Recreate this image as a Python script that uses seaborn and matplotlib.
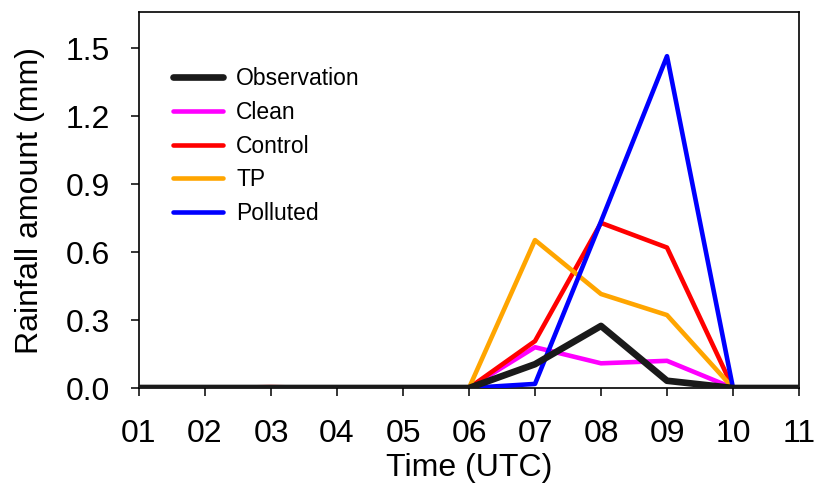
import matplotlib
matplotlib.use("Agg")
import matplotlib.pyplot as plt
import seaborn as sns
import pandas as pd

hours = [1, 2, 3, 4, 5, 6, 7, 8, 9, 10, 11]
tick_labels = ["01", "02", "03", "04", "05", "06", "07", "08", "09", "10", "11"]

observation = [0, 0, 0, 0, 0, 0, 0.105, 0.274, 0.032, 0.0, 0.0]
clean = [0, 0, 0, 0, 0, 0, 0.180, 0.109, 0.120, 0.0, 0.0]
control = [0, 0, 0.004, 0, 0, 0, 0.207, 0.729, 0.620, 0.0, 0.0]
tp = [0, 0, 0, 0, 0, 0, 0.653, 0.415, 0.322, 0.0, 0.0]
polluted = [0, 0, 0, 0, 0, 0, 0.018, 0.735, 1.465, 0.0, 0.0]

series_names = ["Observation", "Clean", "Control", "TP", "Polluted"]
series_values = [observation, clean, control, tp, polluted]
colors = ["#1a1a1a", "#ff00ff", "#ff0000", "#ffa500", "#0000ff"]
widths = [4.8, 3.3, 3.3, 3.3, 3.3]
zorders = [10, 3, 4, 5, 6]

sns.set_style("ticks")
plt.rcParams["font.family"] = ["Liberation Sans", "DejaVu Sans"]
plt.rcParams["text.color"] = "black"
plt.rcParams["axes.labelcolor"] = "black"

fig = plt.figure(figsize=(8.16, 4.93), dpi=100)
ax = fig.add_axes([139 / 816, 1 - 388 / 493, (799 - 139) / 816, (388 - 12) / 493])

for name, vals, c, lw, z in zip(series_names, series_values, colors, widths, zorders):
    df = pd.DataFrame({"hour": hours, "rain": vals})
    sns.lineplot(data=df, x="hour", y="rain", ax=ax, color=c, linewidth=lw,
                 label=name, zorder=z)

ax.set_xlim(1, 11)
ax.set_ylim(0, 1.66)
ax.set_xticks(hours)
ax.set_xticklabels(tick_labels)
ax.set_yticks([0.0, 0.3, 0.6, 0.9, 1.2, 1.5])
ax.set_yticklabels(["0.0", "0.3", "0.6", "0.9", "1.2", "1.5"])
ax.tick_params(axis="both", labelsize=23, length=6, width=1.1, direction="out",
               color="black", labelcolor="black")
ax.tick_params(axis="x", pad=16)
ax.tick_params(axis="y", pad=15)
for sp in ax.spines.values():
    sp.set_visible(True)
    sp.set_linewidth(1.2)
    sp.set_color("black")

ax.set_xlabel("Time (UTC)", fontsize=23, labelpad=3)
ax.set_ylabel("Rainfall amount (mm)", fontsize=23, labelpad=15)

leg = ax.legend(loc="upper left", bbox_to_anchor=(173 / 816, 1 - 67 / 493),
                bbox_transform=fig.transFigure, frameon=False, fontsize=16.5,
                handlelength=2.2, handletextpad=0.55, labelspacing=0.47,
                borderpad=0, borderaxespad=0)

fig.savefig("out.png", dpi=100)
